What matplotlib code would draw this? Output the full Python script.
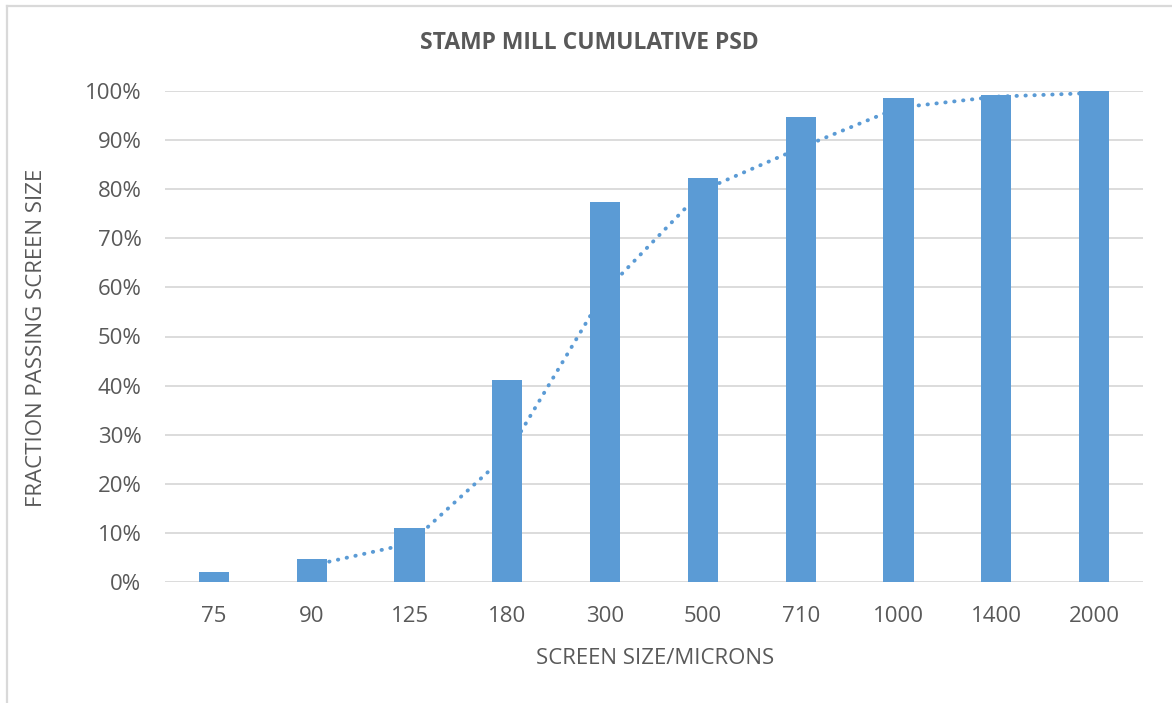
import matplotlib
matplotlib.use("Agg")
import matplotlib.pyplot as plt
import numpy as np
from matplotlib.ticker import FuncFormatter

# Screen sizes (microns) and cumulative fraction passing (%)
screen_sizes = ["75", "90", "125", "180", "300", "500", "710", "1000", "1400", "2000"]
passing_pct = [2.0, 4.7, 10.9, 41.1, 77.4, 82.2, 94.7, 98.5, 99.2, 100.0]

title = "STAMP MILL CUMULATIVE PSD"
x_title = "SCREEN SIZE/MICRONS"
y_title = "FRACTION PASSING SCREEN SIZE"

bar_color = "#5B9BD5"
text_color = "#595959"
grid_color = "#D9D9D9"

plt.rcParams["font.family"] = ["Open Sans", "DejaVu Sans"]

fig = plt.figure(figsize=(11.72, 7.03), dpi=100)
fig.patch.set_facecolor("white")

# chart frame (left and top edges visible)
fig.add_artist(plt.Line2D([6.5 / 1172, 6.5 / 1172], [0, 1 - 5.5 / 703],
                          color=grid_color, lw=1.6, transform=fig.transFigure))
fig.add_artist(plt.Line2D([6.5 / 1172, 1], [1 - 5.5 / 703, 1 - 5.5 / 703],
                          color=grid_color, lw=1.6, transform=fig.transFigure))

left, right = 165 / 1172, 1143 / 1172
bottom, top = 1 - 582 / 703, 1 - 91 / 703
ax = fig.add_axes([left, bottom, right - left, top - bottom])

x = np.arange(len(screen_sizes))
values = np.array(passing_pct)

ax.bar(x, values, width=0.31, color=bar_color, zorder=3)

# two-period moving average trendline
moving_avg = (values[1:] + values[:-1]) / 2
ax.plot(x[1:], moving_avg, linestyle=(0, (0.1, 2.2)), dash_capstyle="round",
        color=bar_color, lw=2.8, zorder=2)

ax.set_xlim(-0.5, len(screen_sizes) - 0.5)
ax.set_ylim(0, 100)
ax.set_yticks(np.arange(0, 101, 10))
ax.yaxis.set_major_formatter(FuncFormatter(lambda v, p: f"{int(v)}%"))
ax.set_xticks(x)
ax.set_xticklabels(screen_sizes)

ax.grid(axis="y", color=grid_color, lw=1.3, zorder=0)
ax.set_axisbelow(True)
for s in ax.spines.values():
    s.set_visible(False)
ax.tick_params(axis="both", length=0, labelsize=16, colors=text_color)
ax.tick_params(axis="x", pad=17)
ax.tick_params(axis="y", pad=17)

fig.text(589 / 1172, 1 - 43 / 703, title, ha="center", va="center",
         fontsize=16.5, fontweight="bold", color=text_color)
fig.text(655 / 1172, 1 - 658 / 703, x_title, ha="center", va="center",
         fontsize=16, color=text_color)
fig.text(37 / 1172, 1 - 338 / 703, y_title, ha="center", va="center",
         rotation=90, fontsize=16, color=text_color)

fig.savefig("out.png", dpi=100, facecolor="white")
